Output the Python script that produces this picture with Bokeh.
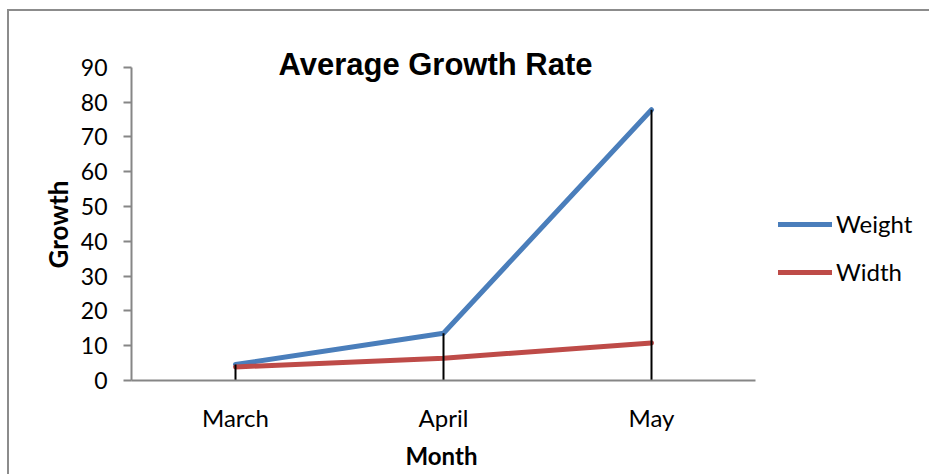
from bokeh.plotting import figure
from bokeh.models import (Range1d, SingleIntervalTicker, FixedTicker, Legend, LegendItem,
                          Label, Title, ColumnDataSource, InlineStyleSheet)
from bokeh.embed import file_html
from bokeh.resources import INLINE

months = ["March", "April", "May"]
weight = [4.6, 13.6, 77.8]
width_vals = [3.9, 6.4, 10.8]

W, H = 929, 474
LEFT, BOTTOM, TOP = 131, 94, 30
PX_PER_Y = (380 - 66.8) / 90.0
PX_PER_CAT = (755 - 131) / len(months)
y_end = (H - BOTTOM - TOP) / PX_PER_Y
x_end = (W - LEFT) / PX_PER_CAT

xs = [i + 0.5 for i in range(len(months))]

p = figure(width=W, height=H, x_range=Range1d(0, x_end), y_range=Range1d(0, y_end),
           output_backend="svg", toolbar_location=None,
           min_border_left=LEFT, min_border_right=0, min_border_top=TOP,
           min_border_bottom=BOTTOM)
p.title.visible = False
p.outline_line_color = None
p.xgrid.visible = False
p.ygrid.visible = False
p.background_fill_color = "white"
p.border_fill_color = "white"

axis_col = "#868686"
# y axis
yax = p.yaxis[0]
yax.ticker = SingleIntervalTicker(interval=10)
yax.bounds = (0, 90)
yax.axis_line_color = axis_col
yax.axis_line_width = 2
yax.major_tick_line_color = axis_col
yax.major_tick_line_width = 2
yax.major_tick_out = 8
yax.major_tick_in = 0
yax.minor_tick_line_color = None
yax.major_label_text_font = "Lato"
yax.major_label_text_font_size = "23px"
yax.major_label_text_color = "black"
yax.major_label_standoff = 16

# x axis (categories at the centres of equal bands)
xax = p.xaxis[0]
xax.ticker = FixedTicker(ticks=xs)
xax.major_label_overrides = {x: m for x, m in zip(xs, months)}
xax.bounds = (0, len(months))
xax.axis_line_color = axis_col
xax.axis_line_width = 2
xax.major_tick_line_color = None
xax.major_tick_out = 0
xax.major_tick_in = 0
xax.minor_tick_line_color = None
xax.major_label_text_font = "Lato"
xax.major_label_text_font_size = "24px"
xax.major_label_text_color = "black"
xax.major_label_standoff = 22

# axis titles, placed under / beside the axis extents
x_title = Title(text="Month", align="left", offset=274, standoff=8,
                text_font="Lato", text_font_style="bold", text_font_size="24px",
                text_color="black")
p.add_layout(x_title, "below")
y_title = Title(text="Growth", align="left", offset=112, standoff=8,
                text_font="Lato", text_font_style="bold", text_font_size="26px",
                text_color="black")
p.add_layout(y_title, "left")

src = ColumnDataSource(dict(x=xs, weight=weight, width=width_vals,
                            top=[max(a, b) for a, b in zip(weight, width_vals)],
                            zero=[0] * len(months)))

r_w = p.line("x", "weight", source=src, line_color="#4A7EBB", line_width=5,
             line_cap="round", line_join="round")
r_d = p.line("x", "width", source=src, line_color="#BE4B48", line_width=5,
             line_cap="round", line_join="round")
p.segment(x0="x", y0="zero", x1="x", y1="top", source=src,
          line_color="black", line_width=2)

legend = Legend(items=[LegendItem(label="Weight", renderers=[r_w]),
                       LegendItem(label="Width", renderers=[r_d])],
                location=(647, 94), orientation="vertical")
legend.border_line_color = None
legend.background_fill_alpha = 0
legend.padding = 0
legend.margin = 0
legend.spacing = 19
legend.glyph_width = 54
legend.glyph_height = 24
legend.label_height = 24
legend.label_standoff = 4
legend.label_text_font = "Lato"
legend.label_text_font_size = "24px"
legend.label_text_color = "black"
p.add_layout(legend)

title = Label(x=1.4615, y=90.9, text="Average Growth Rate", text_align="center",
              text_baseline="alphabetic", text_font="Liberation Sans",
              text_font_style="bold", text_font_size="31px", text_color="black")
p.add_layout(title)

p.stylesheets = [InlineStyleSheet(css="""
:host::after {
  content: "";
  position: absolute;
  left: 7px; top: 9px; right: 0; bottom: 0;
  border-top: 2px solid #8c8c8c;
  border-left: 2px solid #8c8c8c;
  pointer-events: none;
}
""")]

open("out.html", "w").write(file_html(p, INLINE))
